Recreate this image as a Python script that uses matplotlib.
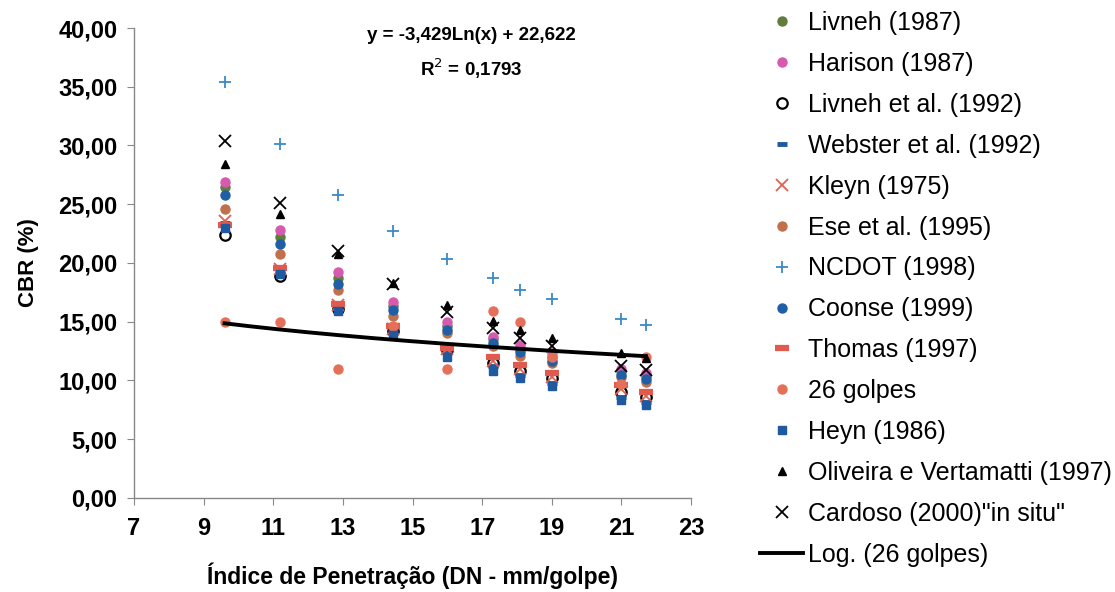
import numpy as np
import matplotlib
matplotlib.use('Agg')
import matplotlib.pyplot as plt
from matplotlib.ticker import FuncFormatter, MultipleLocator, FixedLocator

plt.rcParams['font.family'] = ['Liberation Sans', 'DejaVu Sans']

# índice de penetração (DN) de cada ensaio
dn = [9.6, 11.2, 12.85, 14.45, 16.0, 17.3, 18.1, 19.0, 21.0, 21.7]

# CBR (%) estimado por cada correlação
livneh_1987 = [26.5, 22.2, 18.7, 16.3, 14.6, 13.5, 12.7, 12.0, 10.8, 10.4]
harison = [26.9, 22.8, 19.2, 16.7, 15.0, 13.7, 13.0, 12.3, 11.0, 10.6]
livneh_1992 = [22.4, 18.9, 16.1, 14.2, 12.6, 11.5, 10.8, 10.2, 9.0, 8.6]
webster = [23.4, 19.3, 16.2, 14.2, 12.4, 11.2, 10.5, 9.8, 8.6, 8.2]
kleyn = [23.6, 19.5, 16.4, 14.4, 12.7, 11.7, 11.0, 10.3, 9.3, 8.7]
ese = [24.6, 20.8, 17.7, 15.5, 14.0, 12.9, 12.1, 11.5, 10.3, 9.9]
ncdot = [35.4, 30.1, 25.8, 22.7, 20.3, 18.7, 17.7, 16.9, 15.2, 14.7]
coonse = [25.8, 21.6, 18.2, 16.0, 14.3, 13.2, 12.4, 11.7, 10.5, 10.1]
thomas = [23.2, 19.6, 16.5, 14.6, 12.8, 12.0, 11.3, 10.6, 9.6, 9.0]
golpes_26 = [15.0, 15.0, 11.0, 14.6, 11.0, 15.9, 15.0, 12.0, 9.7, 12.0]
heyn = [23.0, 19.1, 15.9, 13.9, 12.0, 10.8, 10.2, 9.5, 8.3, 7.9]
oliveira = [28.4, 24.2, 20.8, 18.3, 16.4, 15.1, 14.3, 13.6, 12.3, 11.9]
cardoso = [30.4, 25.1, 21.0, 18.2, 15.8, 14.5, 13.6, 12.9, 11.2, 10.9]

# linha de tendência logarítmica (26 golpes)
log_a = -3.429
log_b = 22.622
r2 = 0.1793

x_ticks = [7, 9, 11, 13, 15, 17, 19, 21, 23]

# (rótulo, dados, marcador, cor, tamanho, preenchido)
series = [
    ('Livneh (1987)', livneh_1987, 'o', '#5f7d3c', 6.5, True),
    ('Harison (1987)', harison, 'o', '#d65aae', 6.5, True),
    ('Livneh et al. (1992)', livneh_1992, 'o', 'black', 7.5, False),
    ('Webster et al. (1992)', webster, '_', '#1f5a9e', 7, True),
    ('Kleyn (1975)', kleyn, 'x', '#e0614f', 8, True),
    ('Ese et al. (1995)', ese, 'o', '#c0704a', 6.5, True),
    ('NCDOT (1998)', ncdot, '+', '#3a8ac8', 9, True),
    ('Coonse (1999)', coonse, 'o', '#1f5fa5', 6.5, True),
    ('Thomas (1997)', thomas, '_', '#e05a50', 10, True),
    ('26 golpes', golpes_26, 'o', '#e5705a', 6.5, True),
    ('Heyn (1986)', heyn, 's', '#1f5aa0', 5.5, True),
    ('Oliveira e Vertamatti (1997)', oliveira, '^', 'black', 6, True),
    ('Cardoso (2000)"in situ"', cardoso, 'x', 'black', 8, True),
]

fig = plt.figure(figsize=(11.15, 5.92), dpi=100)
ax = fig.add_axes([0.1202, 0.1588, 0.4996, 0.7939])

for label, vals, mk, cor, ms, cheio in series:
    if mk == '_':
        ax.plot(dn, vals, linestyle='none', marker=mk, color=cor,
                markersize=ms, markeredgewidth=4.5 if ms > 8 else 3.5, label=label)
    elif mk in ('x', '+'):
        ax.plot(dn, vals, linestyle='none', marker=mk, color=cor,
                markersize=ms, markeredgewidth=1.3, label=label)
    elif cheio:
        ax.plot(dn, vals, linestyle='none', marker=mk, color=cor,
                markeredgecolor=cor, markersize=ms, label=label)
    else:
        ax.plot(dn, vals, linestyle='none', marker=mk, markerfacecolor='white',
                markeredgecolor=cor, markeredgewidth=1.6, markersize=ms, label=label)

xs = np.linspace(min(dn), max(dn), 200)
ax.plot(xs, log_a * np.log(xs) + log_b, color='black', linewidth=2.8,
        label='Log. (26 golpes)')

ax.set_xlim(7, 23)
ax.set_ylim(0, 40)
ax.xaxis.set_major_locator(FixedLocator(x_ticks))
ax.yaxis.set_major_locator(MultipleLocator(5))
ax.yaxis.set_major_formatter(FuncFormatter(lambda v, p: f'{v:.2f}'.replace('.', ',')))

for s in ['top', 'right']:
    ax.spines[s].set_visible(False)
for s in ['left', 'bottom']:
    ax.spines[s].set_color('#888888')
    ax.spines[s].set_linewidth(1.0)
ax.tick_params(axis='both', direction='out', length=5, color='#888888',
               labelsize=17, pad=7)
ax.tick_params(axis='x', pad=9)
for t in ax.get_xticklabels() + ax.get_yticklabels():
    t.set_fontweight('bold')

ax.set_xlabel('Índice de Penetração (DN - mm/golpe)', fontsize=16.5,
              fontweight='bold', labelpad=16)
ax.set_ylabel('CBR (%)', fontsize=16, fontweight='bold', labelpad=14)

eq = f'y = {log_a:.3f}Ln(x) + {log_b:.3f}'.replace('.', ',')
ax.text(0.605, 0.985, eq, transform=ax.transAxes, ha='center', va='center',
        fontsize=13.5, fontweight='bold')
ax.text(0.605, 0.914, f'R$^2$ = {r2:.4f}'.replace('.', ','), transform=ax.transAxes,
        ha='center', va='center', fontsize=13.5, fontweight='bold')

fig.legend(loc='upper left', bbox_to_anchor=(0.682, 0.981), frameon=False,
           fontsize=18, labelspacing=0.675, handlelength=1.7, handletextpad=0.2,
           numpoints=1, borderaxespad=0, borderpad=0)

fig.savefig('out.png', dpi=100)
